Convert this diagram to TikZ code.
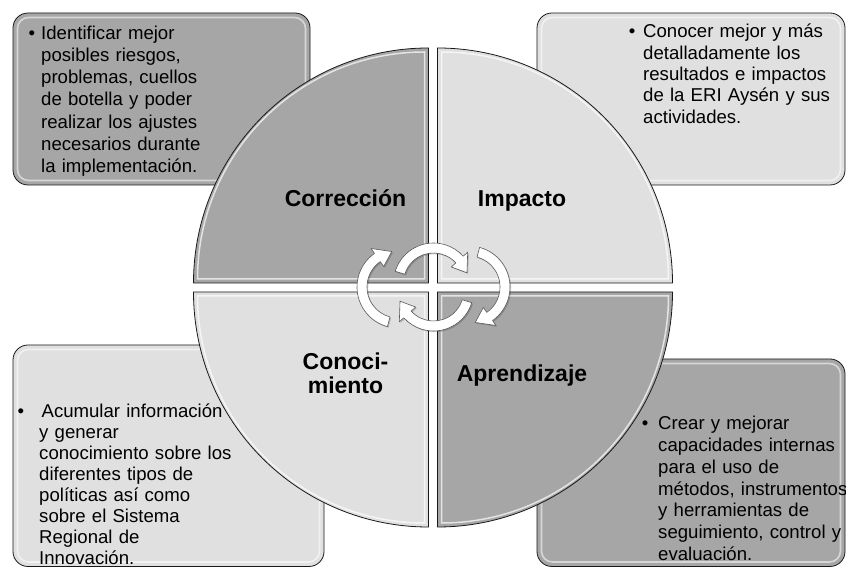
\documentclass[tikz,border=0pt]{standalone}
\usepackage{fontspec}
\setmainfont{Liberation Sans}
\usetikzlibrary{calc}
\definecolor{darkfill}{RGB}{166,166,166}
\definecolor{lightfill}{RGB}{224,224,224}
\definecolor{edgecol}{RGB}{25,25,25}
\definecolor{arrowedge}{RGB}{90,90,90}
\tikzset{
  boxshape/.style={draw=edgecol, line width=0.8pt, rounded corners=15pt},
  boxhi/.style={draw=white, draw opacity=0.55, line width=1.6pt, rounded corners=11pt},
  quartshape/.style={draw=edgecol, line width=0.8pt},
  quarthi/.style={draw=white, draw opacity=0.7, line width=1.5pt},
  cycarrow/.style={fill=white, draw=arrowedge, line width=0.6pt, line join=round},
  cycshadow/.style={fill=black, fill opacity=0.18, draw=none},
  boxtext/.style={inner sep=0pt, anchor=base west, text width=260pt, align=left},
  bulletmark/.style={inner sep=0pt, anchor=base, font=\fontsize{18.6}{20}\selectfont},
  quartlabel/.style={inner sep=0pt, anchor=base, text width=160pt, align=center,
    font=\fontsize{23}{24.4}\selectfont\bfseries}
}
\newcommand{\CycArrowShape}[7]{%
  \path[#7] ($(#1,#2)+(#4:#3+5)$) arc[start angle=#4, end angle=#5, radius=#3+5]
    -- ($(#1,#2)+(#5:#3+11)$) -- ($(#1,#2)+(#6:#3)$) -- ($(#1,#2)+(#5:#3-11)$)
    -- ($(#1,#2)+(#5:#3-5)$) arc[start angle=#5, end angle=#4, radius=#3-5] -- cycle;}
\begin{document}
\begin{tikzpicture}[x=1pt,y=1pt]
\useasboundingbox (0,0) rectangle (846,567);
\fill[white] (0,0) rectangle (846,567);

% ---------- boxes ----------
\filldraw[boxshape, fill=darkfill] (13,382) rectangle (310,554);
\draw[boxhi] (17.5,386.5) rectangle (305.5,549.5);
\filldraw[boxshape, fill=lightfill] (537,382) rectangle (845,554);
\draw[boxhi] (541.5,386.5) rectangle (840.5,549.5);
\filldraw[boxshape, fill=lightfill] (13,0.5) rectangle (324,222);
\draw[boxhi] (17.5,5) rectangle (319.5,217.5);
\filldraw[boxshape, fill=darkfill] (537,0.5) rectangle (845,208);
\draw[boxhi] (541.5,5) rectangle (840.5,203.5);

% ---------- box texts ----------
\node[bulletmark] (b1) at (32,527.7) {•};
\node[boxtext, font=\fontsize{18.6}{22.2}\selectfont] (t1) at (41,527.7)
  {Identificar mejor\\posibles riesgos,\\problemas, cuellos\\de botella y poder\\realizar los ajustes\\necesarios durante\\la implementación.};
\node[bulletmark] (b2) at (632,529) {•};
\node[boxtext, font=\fontsize{18.6}{21.3}\selectfont] (t2) at (643,529)
  {Conocer mejor y más\\detalladamente los\\resultados e impactos\\de la ERI Aysén y sus\\actividades.};
\node[bulletmark] (b3) at (21,149.7) {•};
\node[boxtext, font=\fontsize{18.6}{21}\selectfont] (t3) at (39,149.7)
  {\hspace{2.4pt}Acumular información\\y generar\\conocimiento sobre los\\diferentes tipos de\\políticas así como\\sobre el Sistema\\Regional de\\Innovación.};
\node[bulletmark] (b4) at (645,137) {•};
\node[boxtext, font=\fontsize{18.6}{21.7}\selectfont] (t4) at (658,137)
  {Crear y mejorar\\capacidades internas\\para el uso de\\métodos, instrumentos\\y herramientas de\\seguimiento, control y\\evaluación.};

% ---------- quarters ----------
\filldraw[quartshape, fill=darkfill] (428.5,284) -- (193.5,284) arc[start angle=180, end angle=90, radius=235] -- cycle;
\draw[quarthi] (424.5,288) -- (197.5,288) arc[start angle=180, end angle=90, radius=227] -- cycle;
\filldraw[quartshape, fill=lightfill] (437.5,284) -- (437.5,519) arc[start angle=90, end angle=0, radius=235] -- cycle;
\draw[quarthi] (441.5,288) -- (441.5,515) arc[start angle=90, end angle=0, radius=227] -- cycle;
\filldraw[quartshape, fill=lightfill] (428.5,275) -- (428.5,40) arc[start angle=270, end angle=180, radius=235] -- cycle;
\draw[quarthi] (424.5,271) -- (424.5,44) arc[start angle=270, end angle=180, radius=227] -- cycle;
\filldraw[quartshape, fill=darkfill] (437.5,275) -- (672.5,275) arc[start angle=0, end angle=-90, radius=235] -- cycle;
\draw[quarthi] (441.5,271) -- (668.5,271) arc[start angle=0, end angle=-90, radius=227] -- cycle;

% ---------- cycle arrows ----------
\begin{scope}[shift={(1.2,-1.2)}]
\CycArrowShape{398}{280}{36}{255}{125}{100}{cycshadow}
\CycArrowShape{469}{280}{36}{75}{-55}{-80}{cycshadow}
\CycArrowShape{433.5}{284}{35}{163}{42}{17}{cycshadow}
\CycArrowShape{433.5}{276}{35}{-17}{-138}{-163}{cycshadow}
\end{scope}
\CycArrowShape{398}{280}{36}{255}{125}{100}{cycarrow}
\CycArrowShape{469}{280}{36}{75}{-55}{-80}{cycarrow}
\CycArrowShape{433.5}{284}{35}{163}{42}{17}{cycarrow}
\CycArrowShape{433.5}{276}{35}{-17}{-138}{-163}{cycarrow}

% ---------- quarter labels ----------
\node[quartlabel] (lc) at (345.5,360.5) {Corrección};
\node[quartlabel] (li) at (522,360.5) {Impacto};
\node[quartlabel] (lk) at (345.5,197.4) {Conoci-\\miento};
\node[quartlabel] (la) at (522,185) {Aprendizaje};
\end{tikzpicture}
\end{document}
